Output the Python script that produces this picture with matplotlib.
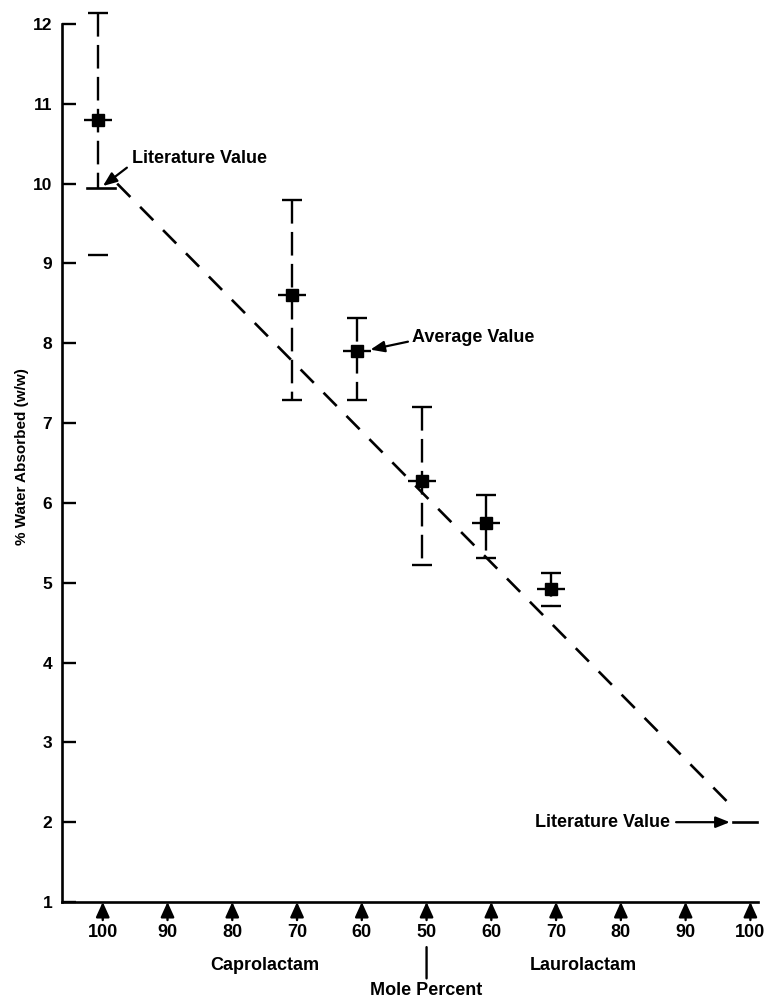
import matplotlib
matplotlib.use("Agg")
import matplotlib.pyplot as plt
from matplotlib.transforms import ScaledTranslation

plt.rcParams["font.family"] = ["Liberation Sans", "DejaVu Sans"]
plt.rcParams["font.weight"] = "bold"
plt.rcParams["lines.scale_dashes"] = False

# Composition axis: mole percent of each lactam
mole_labels = ["100", "90", "80", "70", "60", "50", "60", "70", "80", "90", "100"]

# Measured water absorption (% w/w) for the copolymers
sample_pos = [0, 3, 4, 5, 6, 7]
water_mean = [10.8, 8.6, 7.9, 6.28, 5.75, 4.92]
water_high = [12.14, 9.8, 8.32, 7.2, 6.1, 5.12]
water_low = [9.1, 7.29, 7.29, 5.22, 5.31, 4.71]

# Literature values for the two homopolymers and the line joining them
lit_caprolactam = 9.95
lit_laurolactam = 2.0
lit_left_x = [-0.17, 0.27]
lit_right_x = [9.81, 10.18]
trend_x = [0.3, 9.85]
trend_y = [10.0, 2.15]

fig = plt.figure(figsize=(7.65, 10.01), dpi=100)
ax = fig.add_axes([62 / 765, 99 / 1001, 696 / 765, 878 / 1001])
ax.set_xlim(-0.552, 10.195)
ax.set_ylim(1, 12)

for side in ("top", "right"):
    ax.spines[side].set_visible(False)
for side in ("left", "bottom"):
    ax.spines[side].set_linewidth(1.9)

ax.set_xticks([])
ax.set_yticks(range(1, 13))
ax.tick_params(axis="y", direction="in", length=10, width=1.7, pad=7,
               labelsize=12.5)
ax.set_ylabel("% Water Absorbed (w/w)", fontsize=11, fontweight="bold")
ax.yaxis.set_label_coords(-0.048, 0.507)

# Dashed line between the literature values
ax.plot(trend_x, trend_y, color="k", lw=1.9, linestyle=(0, (13.5, 10)),
        clip_on=False)
ax.plot(lit_left_x, [lit_caprolactam] * 2, color="k", lw=1.9, clip_on=False)
ax.plot(lit_right_x, [lit_laurolactam] * 2, color="k", lw=1.9, clip_on=False)

# Error bars: dashed stems with caps; the first stem starts at the literature mark
bar_bottom = list(water_low)
bar_bottom[0] = lit_caprolactam
ax.vlines(sample_pos, water_high, bar_bottom, colors="k", lw=1.7,
          linestyles=[(0, (17, 6))], clip_on=False)
ax.plot(sample_pos, water_high, ls="none", marker="_", ms=14, mew=1.7,
        color="k", clip_on=False)
ax.plot(sample_pos, water_low, ls="none", marker="_", ms=14, mew=1.7,
        color="k", clip_on=False)

# Average values: filled squares with a short horizontal bar
ax.plot(sample_pos, water_mean, ls="none", marker="_", ms=20, mew=1.7,
        color="k", clip_on=False)
ax.plot(sample_pos, water_mean, ls="none", marker="s", ms=8.8, color="k",
        clip_on=False)

arrow_kw = dict(arrowstyle="-|>,head_length=0.6,head_width=0.24", color="k",
                lw=1.6, shrinkA=0, shrinkB=0, mutation_scale=14)

ax.annotate("", xy=(0.08, 9.97), xytext=(0.45, 10.2), arrowprops=arrow_kw)
ax.text(0.53, 10.32, "Literature Value", fontsize=13, ha="left", va="center")

ax.annotate("", xy=(4.21, 7.92), xytext=(4.79, 8.02), arrowprops=arrow_kw)
ax.text(4.86, 8.07, "Average Value", fontsize=13, ha="left", va="center")

ax.annotate("", xy=(9.76, lit_laurolactam), xytext=(8.93, lit_laurolactam),
            arrowprops=arrow_kw)
ax.text(8.84, lit_laurolactam, "Literature Value", fontsize=13, ha="right",
        va="center")

# Composition markers below the axis
shift = ScaledTranslation(5 / 100, 0, fig.dpi_scale_trans)
mark_trans = ax.transData + shift
up_arrow = dict(arrowstyle="-|>,head_length=0.75,head_width=0.34", color="k",
                lw=1.7, shrinkA=0, shrinkB=0, mutation_scale=12)
for i, lab in enumerate(mole_labels):
    ax.annotate("", xy=(i, 1), xycoords=mark_trans, xytext=(0, -13),
                textcoords="offset points", arrowprops=up_arrow,
                annotation_clip=False)
    ax.annotate(lab, xy=(i, 1), xycoords=mark_trans, xytext=(0, -22),
                textcoords="offset points", ha="center", va="center",
                fontsize=13, annotation_clip=False)

ax.annotate("Caprolactam", xy=(2.58, 0), xycoords=("data", "axes fraction"),
            xytext=(0, -45.5), textcoords="offset points", ha="center",
            va="center", fontsize=13, annotation_clip=False)
ax.annotate("Laurolactam", xy=(7.49, 0), xycoords=("data", "axes fraction"),
            xytext=(0, -45.5), textcoords="offset points", ha="center",
            va="center", fontsize=13, annotation_clip=False)
ax.annotate("", xy=(5, 1), xycoords=mark_trans, xytext=(0, -55),
            textcoords="offset points",
            arrowprops=dict(arrowstyle="-", color="k", lw=1.7, shrinkA=0,
                            shrinkB=32.5),
            annotation_clip=False)
ax.annotate("Mole Percent", xy=(5, 1), xycoords=mark_trans, xytext=(0, -63.5),
            textcoords="offset points", ha="center", va="center", fontsize=13,
            annotation_clip=False)

fig.savefig("out.png", dpi=100, facecolor="white")
